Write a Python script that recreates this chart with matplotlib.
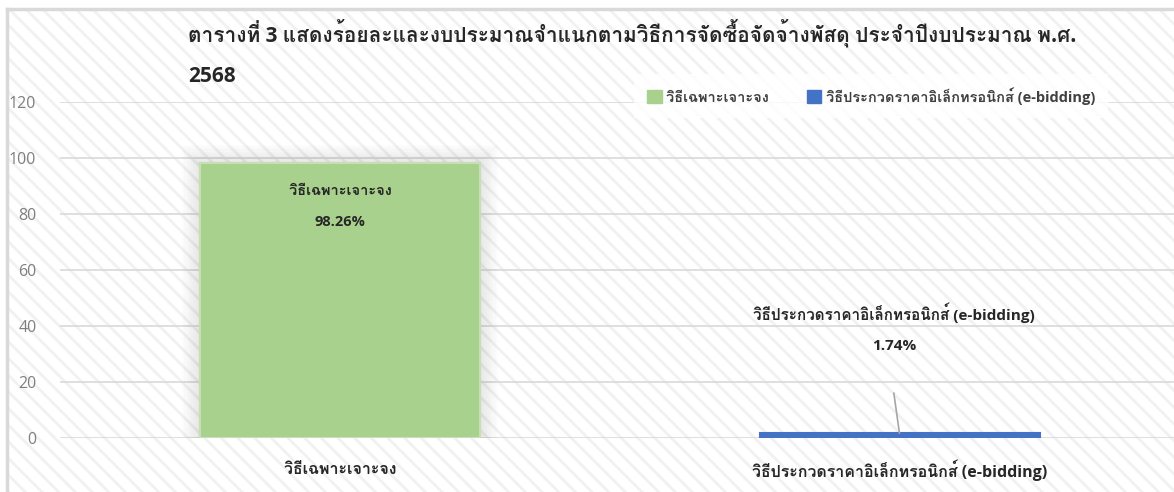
"""
Procurement method share chart (bar chart, Thai labels).
"""

import matplotlib
matplotlib.use('Agg')
import matplotlib.pyplot as plt
from matplotlib import font_manager
from matplotlib.ft2font import FT2Font
from matplotlib.patches import Rectangle

categories = ['วิธีเฉพาะเจาะจง', 'วิธีประกวดราคาอิเล็กทรอนิกส์ (e-bidding)']
values = [98.26, 1.74]
value_labels = ['98.26%', '1.74%']
y_ticks = [0, 20, 40, 60, 80, 100, 120]
title = ('ตารางที่ 3 แสดงร้อยละและงบประมาณจำแนกตามวิธีการจัดซื้อจัดจ้างพัสดุ '
         'ประจำปีงบประมาณ พ.ศ.\n2568')


def find_thai_font(default='DejaVu Sans'):
    """Return the first installed family that has Thai glyphs."""
    for f in font_manager.fontManager.ttflist:
        try:
            if 0x0E27 in FT2Font(f.fname).get_charmap():
                return f.name
        except Exception:
            continue
    return default


thai = find_thai_font()
# Latin/digits from Open Sans, Thai glyphs fall through to the Thai family
plt.rcParams['font.family'] = ['Open Sans', thai, 'DejaVu Sans']
plt.rcParams['hatch.linewidth'] = 2.0
plt.rcParams['hatch.color'] = '#f1f1f1'

W, H = 1174, 492
fig = plt.figure(figsize=(W / 100, H / 100), dpi=100)
fig.patch.set_facecolor('white')

# chart area: hatched background with a light border on the top/left
bg = Rectangle((7 / W, 0), 1, 1 - 9 / H, transform=fig.transFigure,
               facecolor='white', edgecolor='#f1f1f1', hatch='\\\\',
               linewidth=0, zorder=-10)
fig.add_artist(bg)
fig.add_artist(plt.Line2D([7 / W, 1], [1 - 9 / H] * 2, color='#d9d9d9', lw=2.5,
                          transform=fig.transFigure, zorder=-9))
fig.add_artist(plt.Line2D([7 / W] * 2, [0, 1 - 9 / H], color='#d9d9d9', lw=2.5,
                          transform=fig.transFigure, zorder=-9))

# plot area runs a little past the right edge of the picture
ax = fig.add_axes([60 / W, 54 / H, 1120 / W, 336 / H])
ax.patch.set_alpha(0)
for s in ax.spines.values():
    s.set_visible(False)

x = range(len(categories))
colors = ['#a9d18e', '#4472c4']
bar_w = 0.5

# soft glow behind the green bar
for i in range(1, 9):
    grow = i * 0.004
    ax.bar(0, values[0] + i * 0.8, width=bar_w + 2 * grow, color='#808080',
           alpha=0.025, zorder=1, linewidth=0)

ax.bar(x, values, width=bar_w, color=colors, edgecolor=['#c5e0b4', colors[1]],
       linewidth=1.5, zorder=3)

ax.set_xlim(-0.5, 1.5)
ax.set_ylim(0, 120)
ax.set_yticks(y_ticks)
ax.yaxis.grid(True, color='#d9d9d9', linewidth=1.2, zorder=0)
ax.set_axisbelow(True)
ax.tick_params(axis='y', length=0, pad=17, labelsize=11.5, labelcolor='#7f7f7f')
ax.set_xticks(list(x))
ax.set_xticklabels(categories, fontsize=11.5, fontweight='bold', color='#262626')
ax.tick_params(axis='x', length=0, pad=23)
for t in ax.get_xticklabels():
    t.set_va('center')

# data labels
lab = dict(ha='center', va='center', fontweight='bold', color='#262626', zorder=5)
ax.text(0, values[0] - 10, categories[0], fontsize=10.5, **lab)
ax.text(0, values[0] - 21, value_labels[0], fontsize=10.5, **lab)
ax.text(0.99, 44.6, categories[1], fontsize=11, **lab)
ax.text(0.99, 33.0, value_labels[1], fontsize=11, **lab)
ax.plot([0.989, 0.999], [16.0, values[1]], color='#a6a6a6', lw=1.2, zorder=4)

ax.set_title(title, loc='left', x=(188 - 60) / 1120, y=1.06, fontsize=15,
             fontweight='bold', color='#262626', linespacing=2.2, pad=0)

leg = ax.legend([Rectangle((0, 0), 1, 1, color=c) for c in colors], categories,
                ncol=2, loc='center', bbox_to_anchor=(871 / W, 1 - 96 / H),
                bbox_transform=fig.transFigure, frameon=True, fancybox=False,
                handlelength=1.0, handleheight=1.0, handletextpad=0.3,
                columnspacing=2.6, borderpad=0.9,
                prop={'size': 10.5, 'weight': 'bold'})
leg.get_frame().set_facecolor('white')
leg.get_frame().set_alpha(0.8)
leg.get_frame().set_linewidth(0)
for t in leg.get_texts():
    t.set_color('#404040')
leg.set_zorder(6)

fig.savefig('out.png', dpi=100)
